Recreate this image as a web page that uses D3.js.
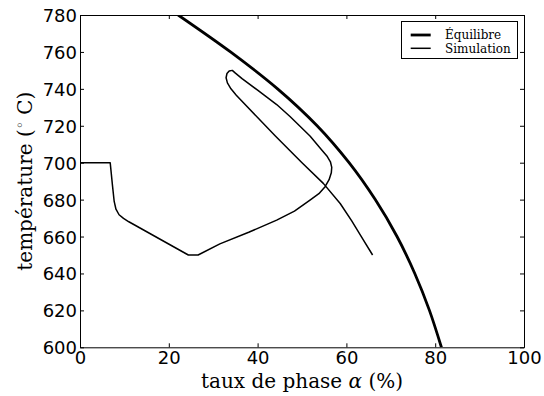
<!DOCTYPE html>
<html>
<head>
<meta charset="utf-8">
<script src="https://cdn.jsdelivr.net/npm/d3@7"></script>
<style>
html,body{margin:0;padding:0;background:#fff;}
svg{display:block;}
</style>
</head>
<body>
<script>
// Data
const xTicks = [0, 20, 40, 60, 80, 100];
const yTicks = [600, 620, 640, 660, 680, 700, 720, 740, 760, 780];
const eqX = [22.1, 33.9, 44.5, 53.4, 60.6, 66.5, 71.4, 75.4, 78.7, 81.4];
const eqT = [780, 760, 740, 720, 700, 680, 660, 640, 620, 600];
const simX = [0, 6.8, 7.3, 7.7, 8.1, 8.8, 9.8, 11, 24.4, 26.6, 31.5, 38, 44.3, 48.3, 51.8, 53.8, 55.2, 56.1, 56.6, 56.7, 56.4, 55.7, 54.4, 51.8, 47.3, 44.3, 40, 36.5, 35, 34.3, 33.6, 33.1, 32.9, 33.2, 34, 35.2, 40, 44, 50, 54.8, 58.6, 61.2, 63.6, 65.9];
const simT = [700, 700, 688, 679, 674.8, 671.8, 669.8, 668, 650, 650, 656, 662.3, 668.9, 673.8, 679.7, 683.2, 687, 690.8, 694.5, 697.5, 700.5, 703.3, 707, 714.5, 725, 731.5, 739.3, 745.5, 748.5, 750, 749.7, 748.3, 746, 743.2, 740, 736.5, 724.5, 714.5, 700, 688.8, 677.9, 668.5, 659, 650];
const seriesNames = ["Équilibre", "Simulation"];

const W = 544, H = 396;
const m = {l: 80, r: 20, t: 15, b: 48.7};
const x = d3.scaleLinear().domain([0, 100]).range([m.l, W - m.r]);
const y = d3.scaleLinear().domain([600, 780]).range([H - m.b, m.t]);

const svg = d3.select("body").append("svg").attr("width", W).attr("height", H);

svg.append("defs").append("clipPath").attr("id", "clip")
  .append("rect").attr("x", x(0)).attr("y", y(780)).attr("width", x(100) - x(0)).attr("height", y(600) - y(780));

const eqData = eqX.map((v, i) => [v, eqT[i]]);
const simData = simX.map((v, i) => [v, simT[i]]);

const g = svg.append("g").attr("clip-path", "url(#clip)");
g.append("path").datum(eqData)
  .attr("d", d3.line().x(d => x(d[0])).y(d => y(d[1])).curve(d3.curveMonotoneY))
  .attr("fill", "none").attr("stroke", "#000").attr("stroke-width", 2.8);
g.append("path").datum(simData)
  .attr("d", d3.line().x(d => x(d[0])).y(d => y(d[1])))
  .attr("fill", "none").attr("stroke", "#000").attr("stroke-width", 1.5)
  .attr("stroke-linejoin", "round");

// Axes (ticks inside, mirrored on all sides)
const tickFont = "'DejaVu Sans', sans-serif";
const axB = svg.append("g").attr("transform", `translate(0,${y(600)})`)
  .call(d3.axisBottom(x).tickValues(xTicks).tickSizeInner(-4).tickSizeOuter(0).tickPadding(8).tickFormat(d3.format("d")));
const axT = svg.append("g").attr("transform", `translate(0,${y(780)})`)
  .call(d3.axisTop(x).tickValues(xTicks).tickSizeInner(-4).tickSizeOuter(0).tickFormat(""));
const axL = svg.append("g").attr("transform", `translate(${x(0)},0)`)
  .call(d3.axisLeft(y).tickValues(yTicks).tickSizeInner(-4).tickSizeOuter(0).tickPadding(7).tickFormat(d3.format("d")));
const axR = svg.append("g").attr("transform", `translate(${x(100)},0)`)
  .call(d3.axisRight(y).tickValues(yTicks).tickSizeInner(-4).tickSizeOuter(0).tickFormat(""));
[axB, axT, axL, axR].forEach(a => {
  a.select(".domain").attr("stroke", "#000").attr("stroke-width", 1);
  a.selectAll(".tick line").attr("stroke", "#000").attr("stroke-width", 1);
  a.selectAll("text").attr("font-family", tickFont).attr("font-size", 18).attr("fill", "#000");
});
axL.selectAll("text").attr("x", -3).attr("dy", "0.36em");
axB.selectAll("text").attr("y", 4).attr("dy", "0.71em");

// Axis labels
const serif = "'DejaVu Serif', serif";
const xl = svg.append("text").attr("x", (x(0) + x(100)) / 2).attr("y", 388)
  .attr("text-anchor", "middle").attr("font-family", serif).attr("font-size", 20).attr("fill", "#000");
xl.append("tspan").text("taux de phase ");
xl.append("tspan").attr("font-style", "italic").text("α");
xl.append("tspan").text(" (%)");

const yl = svg.append("text").attr("transform", `translate(32,${(y(600) + y(780)) / 2}) rotate(-90)`)
  .attr("text-anchor", "middle").attr("font-family", serif).attr("font-size", 20).attr("fill", "#000");
yl.append("tspan").text("température (");
yl.append("tspan").attr("font-size", 14).attr("dy", -7).text("◦");
yl.append("tspan").attr("dy", 7).text(" C)");

// Legend
const lg = svg.append("g");
lg.append("rect").attr("x", 401.5).attr("y", 21.5).attr("width", 116).attr("height", 37)
  .attr("fill", "#fff").attr("stroke", "#000").attr("stroke-width", 1);
const lw = [2.8, 1.5], ly = [35, 48.3];
seriesNames.forEach((n, i) => {
  lg.append("line").attr("x1", 410.7).attr("x2", 430.7).attr("y1", ly[i]).attr("y2", ly[i])
    .attr("stroke", "#000").attr("stroke-width", lw[i]);
  lg.append("text").attr("x", 445).attr("y", ly[i] + 4.3).attr("font-family", serif)
    .attr("font-size", 12).attr("fill", "#000").text(n);
});
</script>
</body>
</html>
